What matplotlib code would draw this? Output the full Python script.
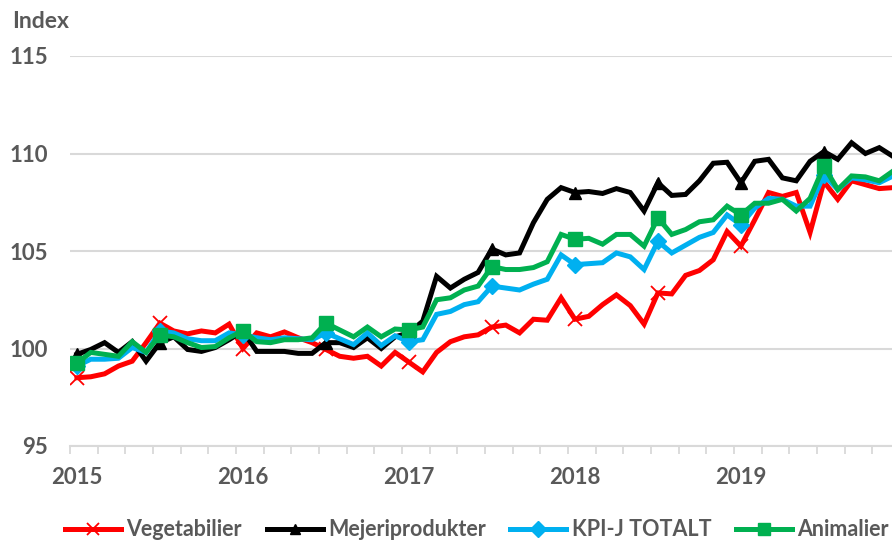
import numpy as np
import matplotlib
matplotlib.use("Agg")
import matplotlib.pyplot as plt

plt.rcParams['font.family'] = ['Lato', 'DejaVu Sans']

# monthly index, Jan 2015 - Dec 2019
year_labels = ["2015", "2016", "2017", "2018", "2019"]

vegetabilier = [
    98.5, 98.55, 98.7, 99.1, 99.35, 100.3, 101.3, 100.9, 100.75, 100.9, 100.8, 101.25,
    100.0, 100.8, 100.6, 100.85, 100.55, 100.3, 99.95, 99.6, 99.5, 99.6, 99.1, 99.8,
    99.3, 98.8, 99.8, 100.35, 100.6, 100.7, 101.1, 101.2, 100.8, 101.5, 101.45, 102.6,
    101.5, 101.65, 102.25, 102.75, 102.2, 101.25, 102.85, 102.8, 103.75, 104.0, 104.55, 106.0,
    105.25, 106.6, 108.0, 107.8, 108.0, 105.95, 108.55, 107.65, 108.6, 108.4, 108.2, 108.25,
]
mejeriprodukter = [
    99.7, 99.95, 100.3, 99.8, 100.35, 99.35, 100.3, 100.6, 99.95, 99.85, 100.05, 100.45,
    100.9, 99.85, 99.85, 99.85, 99.75, 99.75, 100.3, 100.3, 100.05, 100.55, 100.0, 100.6,
    100.8, 101.4, 103.7, 103.1, 103.55, 103.9, 105.1, 104.8, 104.9, 106.45, 107.65, 108.25,
    108.0, 108.05, 107.95, 108.2, 108.0, 107.05, 108.5, 107.85, 107.9, 108.6, 109.5, 109.55,
    108.5, 109.6, 109.7, 108.75, 108.6, 109.6, 110.1, 109.7, 110.55, 110.0, 110.3, 109.85,
]
kpi_j_totalt = [
    99.1, 99.45, 99.45, 99.5, 100.05, 99.8, 100.9, 100.8, 100.5, 100.4, 100.4, 100.8,
    100.7, 100.55, 100.45, 100.55, 100.5, 100.45, 100.8, 100.5, 100.2, 100.8, 100.15, 100.65,
    100.35, 100.45, 101.75, 101.9, 102.25, 102.4, 103.2, 103.1, 103.0, 103.3, 103.55, 104.8,
    104.3, 104.35, 104.4, 104.9, 104.7, 104.05, 105.5, 104.9, 105.3, 105.7, 105.95, 106.85,
    106.35, 107.2, 107.7, 107.65, 107.3, 107.3, 108.9, 108.15, 108.75, 108.65, 108.5, 108.85,
]
animalier = [
    99.25, 99.8, 99.7, 99.6, 100.35, 99.8, 100.7, 100.6, 100.3, 100.05, 100.1, 100.55,
    100.9, 100.35, 100.3, 100.45, 100.45, 100.55, 101.3, 100.95, 100.6, 101.1, 100.6, 101.0,
    100.95, 101.1, 102.5, 102.6, 103.0, 103.2, 104.2, 104.05, 104.05, 104.15, 104.45, 105.85,
    105.6, 105.65, 105.35, 105.85, 105.85, 105.25, 106.7, 105.85, 106.1, 106.5, 106.6, 107.3,
    106.85, 107.45, 107.45, 107.65, 107.05, 107.7, 109.35, 108.15, 108.85, 108.8, 108.6, 109.1,
]

series = [
    ("Vegetabilier", vegetabilier, "#FF0000", "x"),
    ("Mejeriprodukter", mejeriprodukter, "#000000", "^"),
    ("KPI-J TOTALT", kpi_j_totalt, "#00B0F0", "D"),
    ("Animalier", animalier, "#00B050", "s"),
]

text_col = "#595959"
grid_col = "#D9D9D9"

fig = plt.figure(figsize=(8.92, 5.42), dpi=100)
ax = fig.add_axes([70 / 892, 1 - 446 / 542, 830 / 892, 390 / 542])

x = np.arange(len(vegetabilier))
for name, vals, col, mk in series:
    if mk == "x":
        ax.plot(x, vals, color=col, lw=3.6, marker=mk, markevery=6, ms=10,
                mew=1.3, mec=col, label=name, solid_joinstyle="miter")
    elif mk == "s":
        ax.plot(x, vals, color=col, lw=3.6, marker=mk, markevery=6, ms=10,
                mec=col, label=name, solid_joinstyle="miter")
    else:
        ax.plot(x, vals, color=col, lw=3.6, marker=mk, markevery=6, ms=8.5,
                mec=col, label=name, solid_joinstyle="miter")

ax.set_ylim(95, 115)
ax.set_xlim(-0.5, 59.5)
ax.set_yticks([95, 100, 105, 110, 115])
ax.grid(axis="y", color=grid_col, lw=1.5)
ax.set_axisbelow(True)

ax.set_xticks(np.arange(0, 60, 12))
ax.set_xticklabels(year_labels)
ax.set_xticks(np.arange(-0.5, 60, 2), minor=True)
ax.tick_params(axis="x", which="major", length=0, pad=15)
ax.tick_params(axis="x", which="minor", length=6, width=1.3, color=grid_col)
ax.tick_params(axis="y", length=0, pad=16)
for lab in ax.get_xticklabels() + ax.get_yticklabels():
    lab.set_fontsize(16)
    lab.set_fontweight("bold")
    lab.set_color(text_col)

for s in ["top", "right", "left"]:
    ax.spines[s].set_visible(False)
ax.spines["bottom"].set_color(grid_col)
ax.spines["bottom"].set_linewidth(1.5)

fig.text(12 / 892, 1 - 22 / 542, "Index", fontsize=16.5, fontweight="bold",
         color=text_col, va="center", ha="left")

leg = fig.legend(loc="center left", bbox_to_anchor=(65 / 892, 1 - 530 / 542),
                 ncol=4, frameon=False, handlelength=2.6, handletextpad=0.25,
                 columnspacing=1.15, borderaxespad=0, borderpad=0,
                 prop={"size": 15.5, "weight": "bold"}, markerscale=0.9)
for t in leg.get_texts():
    t.set_color(text_col)

fig.savefig("out.png", dpi=100)
